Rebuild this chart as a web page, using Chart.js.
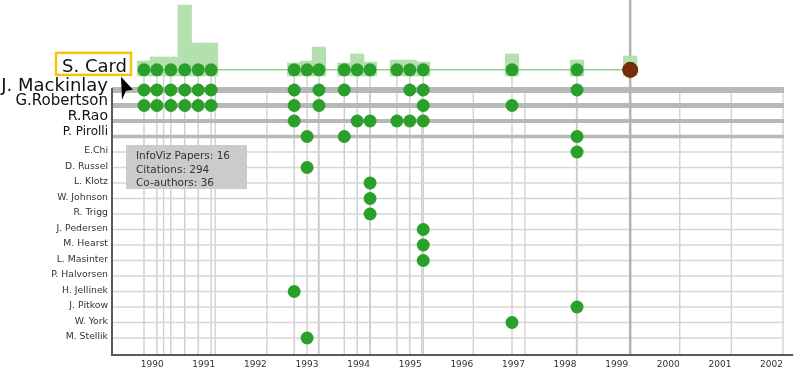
<!DOCTYPE html>
<html>
<head>
<meta charset="utf-8">
<script src="https://cdn.jsdelivr.net/npm/chart.js@4.4.0/dist/chart.umd.min.js"></script>
<style>
  html, body { margin: 0; padding: 0; background: #fff; }
  #wrap { width: 800px; height: 375px; }
</style>
</head>
<body>
<div id="wrap"><canvas id="chart" width="800" height="375"></canvas></div>
<script>
  // ===== Data =====
  const years = [1990, 1991, 1992, 1993, 1994, 1995, 1996, 1997, 1998, 1999, 2000, 2001, 2002];
  const focusAuthor = "S. Card";
  const authors = ["J. Mackinlay", "G.Robertson", "R.Rao", "P. Pirolli", "E.Chi", "D. Russel", "L. Klotz",
    "W. Johnson", "R. Trigg", "J. Pedersen", "M. Hearst", "L. Masinter", "P. Halvorsen", "H. Jellinek",
    "J. Pitkow", "W. York", "M. Stellik"];
  // publication dates of S. Card's papers (years)
  const papers = [1989.62, 1989.87, 1990.14, 1990.41, 1990.67, 1990.92, 1992.53, 1992.78, 1993.01,
    1993.50, 1993.75, 1994.00, 1994.52, 1994.77, 1995.03, 1996.75, 1998.01];
  // citation bar height for each paper
  const citeHeight = [15, 19, 19, 71, 33, 33, 13, 15, 29, 13, 22, 14, 16, 16, 14, 22, 16];
  const currentPaper = 1999.04;
  const currentCite = 20;
  // which papers (index into papers) each co-author shares
  const coPapers = [
    [0, 1, 2, 3, 4, 5, 6, 8, 9, 13, 14, 16],
    [0, 1, 2, 3, 4, 5, 6, 8, 14, 15],
    [6, 10, 11, 12, 13, 14],
    [7, 9, 16],
    [16],
    [7],
    [11],
    [11],
    [11],
    [14],
    [14],
    [14],
    [],
    [6],
    [16],
    [15],
    [7]
  ];
  const stats = ["InfoViz Papers: 16", "Citations: 294", "Co-authors: 36"];

  // ===== Styles =====
  const FONT = "'DejaVu Sans', Verdana, sans-serif";
  const labelSize = [18, 15, 14, 12, 9.3, 9.3, 9.3, 9.3, 9.3, 9.3, 9.3, 9.3, 9.3, 9.3, 9.3, 9.3, 9.3];
  const labelLift = [4, 4, 5, 5, 1, 1, 1, 1, 1, 1, 1, 1, 1, 1, 1, 1, 1];
  const rowWidth = [6, 5, 4, 3.3, 1.5, 1.5, 1.5, 1.5, 1.5, 1.5, 1.5, 1.5, 1.5, 1.5, 1.5, 1.5, 1.5];
  const cardYears = [1990, 1991]; // year lines that reach up to the S. Card row

  const X_MIN = 1989, X_MAX = 2002.02;
  const Y_MIN = -4.806, Y_MAX = 18.097;
  const CARD_ROW = -0.3;
  const AXIS_TOP = 0.87;
  const ROW_PX = 355 / (Y_MAX - Y_MIN);

  const green = "#2aa02a";

  // ===== Datasets =====
  let datasets = [];

  // vertical lines for each paper
  let vPaper = [];
  papers.forEach(p => {
    vPaper.push({ x: p, y: CARD_ROW }, { x: p, y: Y_MAX }, { x: p, y: null });
  });
  datasets.push({ type: "line", data: vPaper, borderColor: "#c6c6c6", borderWidth: 1.2,
    pointRadius: 0, spanGaps: false, order: 10 });

  // vertical year lines
  let vYear = [];
  years.filter(y => y !== 1999).forEach(yr => {
    let top = cardYears.includes(yr) ? CARD_ROW : AXIS_TOP;
    vYear.push({ x: yr, y: top }, { x: yr, y: Y_MAX }, { x: yr, y: null });
  });
  datasets.push({ type: "line", data: vYear, borderColor: "#d2d2d2", borderWidth: 1.4,
    pointRadius: 0, spanGaps: false, order: 10 });

  // co-author rows
  authors.forEach((a, i) => {
    datasets.push({
      type: "line",
      data: [{ x: X_MIN, y: i + 1 }, { x: X_MAX, y: i + 1 }],
      borderColor: rowWidth[i] > 2 ? "#b8b8b8" : "#d6d6d6",
      borderWidth: rowWidth[i],
      pointRadius: 0,
      order: 8
    });
  });

  // "now" line
  datasets.push({ type: "line", data: [{ x: currentPaper, y: Y_MIN }, { x: currentPaper, y: Y_MAX }],
    borderColor: "#b3b3b3", borderWidth: 2.5, pointRadius: 0, order: 7 });

  // citation histogram
  datasets.push({
    type: "bar",
    yAxisID: "yc",
    data: papers.map((p, i) => ({ x: p, y: citeHeight[i] })).concat([{ x: currentPaper, y: currentCite }]),
    backgroundColor: "#b4dfae",
    barThickness: 13.5,
    order: 6
  });

  // axes lines
  datasets.push({ type: "line", data: [{ x: X_MIN, y: AXIS_TOP }, { x: X_MIN, y: Y_MAX }, { x: 2002.2, y: Y_MAX }],
    borderColor: "#5a5a5a", borderWidth: 2, pointRadius: 0, clip: false, order: 5 });

  // S. Card timeline
  datasets.push({ type: "line", data: [{ x: papers[0], y: CARD_ROW }, { x: currentPaper, y: CARD_ROW }],
    borderColor: "#92d28e", borderWidth: 1.5, pointRadius: 0, order: 4 });

  // dots
  let dots = papers.map(p => ({ x: p, y: CARD_ROW }));
  coPapers.forEach((list, i) => {
    list.forEach(k => dots.push({ x: papers[k], y: i + 1 }));
  });
  datasets.push({ type: "scatter", data: dots, backgroundColor: green, borderWidth: 0,
    pointRadius: 6.5, pointHoverRadius: 6.5, order: 2 });

  datasets.push({ type: "scatter", data: [{ x: currentPaper, y: CARD_ROW }], backgroundColor: "#7a2c0b",
    borderColor: "#5e2006", borderWidth: 1, pointRadius: 7.5, order: 1 });

  // ===== Overlay: focus label, cursor, info box =====
  const overlay = {
    id: "overlay",
    afterDatasetsDraw(chart) {
      const { ctx, chartArea } = chart;
      const py = chart.scales.y.getPixelForValue(CARD_ROW);
      const left = chartArea.left;
      ctx.save();

      // info box
      ctx.fillStyle = "#cbcbcb";
      ctx.fillRect(left + 14, 145, 121, 44);
      ctx.fillStyle = "#333";
      ctx.font = "10.5px " + FONT;
      ctx.textAlign = "left";
      ctx.textBaseline = "alphabetic";
      stats.forEach((s, i) => ctx.fillText(s, left + 24, 159 + i * 13.5));

      // focus author label
      ctx.strokeStyle = "#f2c414";
      ctx.lineWidth = 2.5;
      ctx.strokeRect(56, py - 17, 75, 22);
      ctx.fillStyle = "#111";
      ctx.font = "18px " + FONT;
      ctx.textAlign = "right";
      ctx.fillText(focusAuthor, left + 15, py + 2);

      // cursor
      ctx.fillStyle = "#000";
      ctx.beginPath();
      ctx.moveTo(left + 9, py + 7);
      ctx.lineTo(left + 21, py + 20);
      ctx.lineTo(left + 14, py + 21);
      ctx.lineTo(left + 10, py + 30);
      ctx.closePath();
      ctx.fill();
      ctx.restore();
    }
  };

  // ===== Chart =====
  const ctx = document.getElementById("chart").getContext("2d");
  new Chart(ctx, {
    type: "scatter",
    data: { datasets: datasets },
    options: {
      responsive: false,
      animation: false,
      events: [],
      layout: { autoPadding: false, padding: { left: 0, top: 0, right: 16, bottom: 0 } },
      plugins: { legend: { display: false }, tooltip: { enabled: false } },
      scales: {
        x: {
          type: "linear", min: X_MIN, max: X_MAX, offset: false,
          grid: { display: false, drawTicks: false, offset: false },
          border: { display: false },
          afterBuildTicks: s => { s.ticks = years.map(v => ({ value: v })); },
          afterFit: s => { s.height = 20; s.paddingLeft = 0; s.paddingRight = 0; },
          ticks: { autoSkip: false, align: "end", padding: 4, maxRotation: 0, color: "#333",
            font: { family: FONT, size: 9 }, callback: v => String(v) }
        },
        y: {
          type: "linear", reverse: true, min: Y_MIN, max: Y_MAX,
          grid: { display: false, drawTicks: false },
          border: { display: false },
          afterBuildTicks: s => { s.ticks = authors.map((a, i) => ({ value: i + 1 - labelLift[i] / ROW_PX })); },
          afterFit: s => { s.width = 112; s.paddingTop = 0; s.paddingBottom = 0; },
          ticks: { autoSkip: false, padding: 4,
            color: c => labelSize[c.index] > 10 ? "#111" : "#333",
            font: c => ({ family: FONT, size: labelSize[c.index] }),
            callback: (v, i) => authors[i] }
        },
        yc: { type: "linear", display: false, min: -279, max: 76 }
      }
    },
    plugins: [overlay]
  });
</script>
</body>
</html>
